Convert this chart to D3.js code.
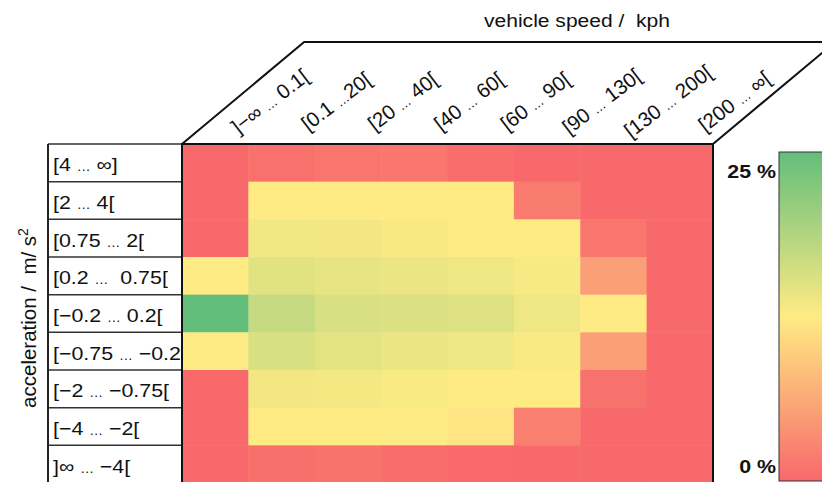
<!DOCTYPE html>
<html>
<head>
<meta charset="utf-8">
<script src="https://cdn.jsdelivr.net/npm/d3@7"></script>
<style>
  body { margin: 0; background: #fff; }
  text { font-family: "Liberation Sans", Arial, sans-serif; fill: #111; white-space: pre; }
</style>
</head>
<body>
<div id="chart"></div>
<script>
// speed bins (columns) and acceleration bins (rows); "|" marks the small ellipsis
const speedBins = [']−∞ | 0.1[', '[0.1 |20[', '[20 | 40[', '[40 | 60[', '[60 | 90[', '[90 | 130[', '[130 | 200[', '[200 | ∞['];
const accelBins = ['[4 | ∞]', '[2 | 4[', '[0.75 | 2[', '[0.2 |  0.75[', '[−0.2 | 0.2[', '[−0.75 | −0.2', '[−2 | −0.75[', '[−4 | −2[', ']∞ | −4['];

// share of time in %, one array per acceleration row
const rowAccel4 = [0, 0.06, 0.10, 0.11, 0.03, 0, 0, 0];
const rowAccel2 = [0, 1.0, 1.0, 1.0, 1.0, 0.14, 0, 0];
const rowAccel075 = [0, 3.2, 2.9, 2.0, 1.2, 1.0, 0.10, 0];
const rowAccel02 = [1.0, 5.6, 4.8, 4.1, 3.4, 2.2, 0.42, 0];
const rowAccel0 = [25, 9.9, 7.0, 6.5, 6.3, 3.4, 1.0, 0];
const rowDecel02 = [1.0, 6.8, 5.3, 4.1, 3.4, 1.7, 0.42, 0];
const rowDecel075 = [0, 2.9, 2.7, 1.7, 1.0, 1.0, 0.07, 0];
const rowDecel2 = [0, 1.0, 1.0, 1.0, 0.95, 0.18, 0, 0];
const rowDecel4 = [0, 0.05, 0.08, 0.02, 0.01, 0, 0, 0];
const values = [rowAccel4, rowAccel2, rowAccel075, rowAccel02, rowAccel0, rowDecel02, rowDecel075, rowDecel2, rowDecel4];

const legendTicks = ['0 %', '25 %'];

const W = 822, H = 482;
const sx = 1.15; // horizontal text stretch
const svg = d3.select('#chart').append('svg').attr('width', W).attr('height', H);

const gx0 = 182, gx1 = 713, gy0 = 144, gy1 = 483;
const x = d3.scaleBand().domain(d3.range(speedBins.length)).range([gx0, gx1]);
const y = d3.scaleBand().domain(d3.range(accelBins.length)).range([gy0, gy1]);

const color = d3.scaleLinear()
  .domain([0, 1, 25])
  .range(['#f8696b', '#ffeb84', '#63be7b'])
  .clamp(true);

// write label with a small ellipsis in place of "|"
function bin(sel, ell) {
  sel.each(function(d) {
    const parts = d.split('|');
    const t = d3.select(this);
    t.append('tspan').text(parts[0]);
    t.append('tspan').attr('font-size', ell).text('…');
    t.append('tspan').text(parts[1]);
  });
}

// cells
const cells = [];
values.forEach((row, r) => row.forEach((v, c) => cells.push({ r, c, v })));
svg.append('g').selectAll('rect')
  .data(cells)
  .join('rect')
  .attr('x', d => x(d.c))
  .attr('y', d => y(d.r))
  .attr('width', x.bandwidth() + 0.5)
  .attr('height', y.bandwidth() + 0.5)
  .attr('fill', d => color(d.v));

// row label table
const tx0 = 48;
const rowG = svg.append('g');
rowG.selectAll('line.row')
  .data(d3.range(accelBins.length + 1))
  .join('line')
  .attr('x1', tx0).attr('x2', gx0)
  .attr('y1', d => gy0 + d * y.step()).attr('y2', d => gy0 + d * y.step())
  .attr('stroke', '#333').attr('stroke-width', 1.5);
rowG.append('line')
  .attr('x1', tx0).attr('x2', tx0).attr('y1', gy0).attr('y2', gy1)
  .attr('stroke', '#222').attr('stroke-width', 2);
rowG.selectAll('text')
  .data(accelBins)
  .join('text')
  .attr('transform', (d, i) => `translate(${tx0 + 5},${y(i) + y.bandwidth() / 2 + 8.5}) scale(${sx},1)`)
  .attr('font-size', 18.6)
  .call(bin, 12);

// header parallelogram
const slope = 0.835;
const hy = 42;
const hdx = (gy0 - hy) / slope;
svg.append('path')
  .attr('d', `M${gx0},${gy0} L${gx0 + hdx},${hy} L${gx1 + hdx},${hy} L${gx1},${gy0}`)
  .attr('fill', 'none').attr('stroke', '#111').attr('stroke-width', 2);

svg.append('g').selectAll('text')
  .data(speedBins)
  .join('text')
  .attr('transform', (d, i) => `translate(${x(i) + x.bandwidth() / 2 + 59},${107}) rotate(-37.5)`)
  .attr('text-anchor', 'middle')
  .attr('font-size', 20.5)
  .call(bin, 13);

// heatmap border
svg.append('rect')
  .attr('x', gx0).attr('y', gy0).attr('width', gx1 - gx0).attr('height', gy1 - gy0)
  .attr('fill', 'none').attr('stroke', '#111').attr('stroke-width', 2);

// axis titles
svg.append('text')
  .attr('transform', `translate(577,27) scale(${sx},1)`)
  .attr('text-anchor', 'middle').attr('font-size', 18.3)
  .text('vehicle speed /  kph');

const yt = svg.append('text')
  .attr('transform', 'translate(36,318) rotate(-90)')
  .attr('text-anchor', 'middle').attr('font-size', 20.5);
yt.append('tspan').text('acceleration /  m/ s');
yt.append('tspan').attr('dy', -8).attr('font-size', 14).text('2');

// colour legend
const defs = svg.append('defs');
const grad = defs.append('linearGradient').attr('id', 'lg')
  .attr('x1', 0).attr('y1', 1).attr('x2', 0).attr('y2', 0);
grad.selectAll('stop')
  .data([0, 0.5, 1])
  .join('stop')
  .attr('offset', d => d)
  .attr('stop-color', (d, i) => color.range()[i]);

const ly0 = 152, ly1 = 481, lx = 779;
svg.append('rect')
  .attr('x', lx).attr('y', ly0).attr('width', 60).attr('height', ly1 - ly0)
  .attr('fill', 'url(#lg)').attr('stroke', '#333').attr('stroke-width', 1);

const ls = d3.scaleLinear().domain([0, 1]).range([473, 178]);
svg.append('g').selectAll('text')
  .data(legendTicks)
  .join('text')
  .attr('transform', (d, i) => `translate(${lx - 3},${ls(i)}) scale(${sx},1)`)
  .attr('text-anchor', 'end')
  .attr('font-size', 18.6).attr('font-weight', 'bold')
  .text(d => d);
</script>
</body>
</html>
